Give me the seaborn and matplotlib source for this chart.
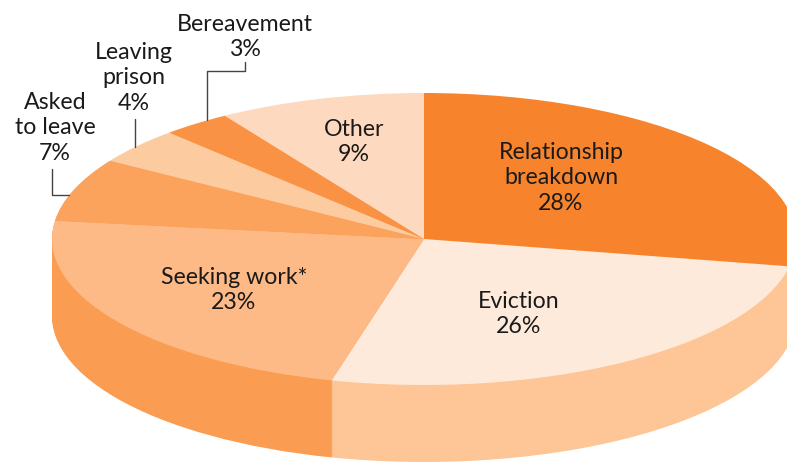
import numpy as np
import seaborn as sns
import matplotlib
matplotlib.use("Agg")
import matplotlib.pyplot as plt

# Dados
categories = ["Relationship\nbreakdown", "Eviction", "Seeking work*", "Asked\nto leave",
              "Leaving\nprison", "Bereavement", "Other"]
values = [28, 26, 23, 7, 4, 3, 9]
top_colors = ["#F7842D", "#FEEADB", "#FDBA86", "#FBA25C", "#FDCBA0", "#F99244", "#FDDABF"]
side_colors = ["#F7842D", "#FEC596", "#FA9D52", "#FA9D52", "#FA9D52", "#FA9D52", "#FA9D52"]

# posicao dos textos, em pixels da imagem
label_pos = [(561, 178), (519, 314), (234, 290), (55, 128), (134, 78), (245, 37), (354, 142)]
leaders = [
    ([52, 52, 69], [169, 195, 195]),
    ([135, 135], [119, 147]),
    ([245, 245, 207, 207], [62, 71, 71, 120]),
]

W, H = 787, 462
cx, cy, rx, ry, depth = 424, 239, 372, 146, 77

sns.set_theme(style="white")
plt.rcParams["font.family"] = ["Lato", "DejaVu Sans"]

fig, ax = plt.subplots(figsize=(W / 100, H / 100), dpi=100)
fig.subplots_adjust(0, 0, 1, 1)


def px(x, y):
    # pixel da imagem -> coordenadas do pie
    return (x - cx) / rx, (cy - y) / ry


# lateral: varios pies empilhados de baixo para cima
for d in np.arange(depth, 0, -1):
    ax.pie(values, colors=side_colors, startangle=90, counterclock=False,
           center=(0, -d / ry), radius=1, wedgeprops={"linewidth": 0})

# topo
ax.pie(values, colors=top_colors, startangle=90, counterclock=False,
       center=(0, 0), radius=1, wedgeprops={"linewidth": 0})

ax.set_aspect("auto")
ax.set_xlim(px(0, 0)[0], px(W, 0)[0])
ax.set_ylim(px(0, H)[1], px(0, 0)[1])
ax.axis("off")

for name, val, pos in zip(categories, values, label_pos):
    x, y = px(*pos)
    ax.text(x, y, f"{name}\n{val}%", ha="center", va="center", fontsize=16.7,
            color="#1a1a1a", linespacing=1.25)

for xs, ys in leaders:
    pts = [px(a, b) for a, b in zip(xs, ys)]
    ax.plot([p[0] for p in pts], [p[1] for p in pts], color="#444444", lw=1)

plt.savefig("out.png", dpi=100)
plt.close()
